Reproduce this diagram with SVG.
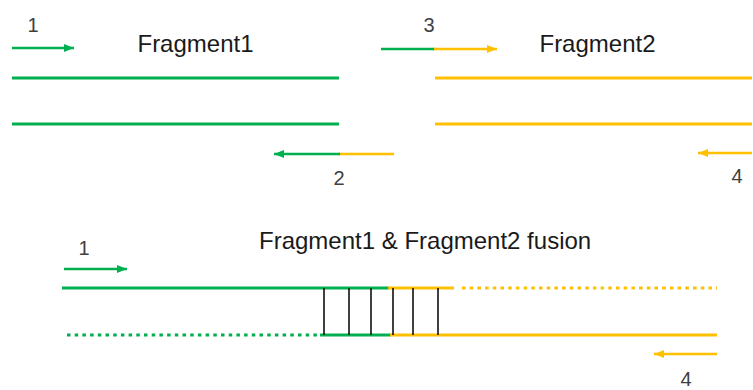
<svg xmlns="http://www.w3.org/2000/svg" width="753" height="390" viewBox="0 0 753 390">
<style>
.g{stroke:#00B050;fill:none}
.y{stroke:#FFC000;fill:none}
.strand{stroke-width:3}
.pr{stroke-width:2.5}
.dot{stroke-width:3;stroke-dasharray:3.5 4.2}
.hb{stroke:#000;stroke-width:1.5}
.t{font-family:"Liberation Sans",Arial,sans-serif;font-size:24px;fill:#1a1a1a}
.n{font-family:"Liberation Sans",Arial,sans-serif;font-size:20px;fill:#404040;text-anchor:middle}
</style>
<defs>
<marker id="ag" viewBox="0 0 10 8" refX="10" refY="4" markerWidth="10" markerHeight="8" markerUnits="userSpaceOnUse" orient="auto"><path d="M0,0L10,4L0,8z" fill="#00B050"/></marker>
<marker id="ay" viewBox="0 0 10 8" refX="10" refY="4" markerWidth="10" markerHeight="8" markerUnits="userSpaceOnUse" orient="auto"><path d="M0,0L10,4L0,8z" fill="#FFC000"/></marker>
</defs>
<rect width="753" height="390" fill="#fff"/>
<g id="fragment1">
<line class="g strand" x1="12" y1="78" x2="339" y2="78"/>
<line class="g strand" x1="12" y1="124" x2="339" y2="124"/>
<text class="t" x="195.5" y="52" text-anchor="middle">Fragment1</text>
</g>
<g id="fragment2">
<line class="y strand" x1="435" y1="78" x2="752" y2="78"/>
<line class="y strand" x1="435" y1="124" x2="752" y2="124"/>
<text class="t" x="597.5" y="52" text-anchor="middle">Fragment2</text>
</g>
<g id="fusion">
<text class="t" x="259" y="249">Fragment1 &amp; Fragment2 fusion</text>
<line class="g strand" x1="62" y1="288" x2="389" y2="288"/>
<line class="y strand" x1="388" y1="288" x2="454" y2="288"/>
<line class="y dot" x1="462" y1="288" x2="717" y2="288"/>
<line class="g dot" x1="67" y1="335" x2="320" y2="335"/>
<line class="g strand" x1="320" y1="335" x2="391" y2="335"/>
<line class="y strand" x1="390" y1="335" x2="717" y2="335"/>
<g id="hbonds">
<line class="hb" x1="324" y1="288" x2="324" y2="335"/>
<line class="hb" x1="349" y1="288" x2="349" y2="335"/>
<line class="hb" x1="371" y1="288" x2="371" y2="335"/>
<line class="hb" x1="393" y1="288" x2="393" y2="335"/>
<line class="hb" x1="413" y1="288" x2="413" y2="335"/>
<line class="hb" x1="438" y1="288" x2="438" y2="335"/>
</g>
</g>
<g id="primers">
<g id="primer1"><line class="g pr" x1="12" y1="48" x2="74" y2="48" marker-end="url(#ag)"/><text class="n" x="33" y="32">1</text></g>
<g id="primer2"><line class="y pr" x1="394" y1="154" x2="338" y2="154"/><line class="g pr" x1="340" y1="154" x2="274" y2="154" marker-end="url(#ag)"/><text class="n" x="339" y="185">2</text></g>
<g id="primer3"><line class="g pr" x1="381" y1="49" x2="435" y2="49"/><line class="y pr" x1="434" y1="49" x2="497" y2="49" marker-end="url(#ay)"/><text class="n" x="429" y="32">3</text></g>
<g id="primer4"><line class="y pr" x1="752" y1="153" x2="698" y2="153" marker-end="url(#ay)"/><text class="n" x="737" y="183">4</text></g>
<g id="primer1b"><line class="g pr" x1="64" y1="269" x2="127" y2="269" marker-end="url(#ag)"/><text class="n" x="84" y="255">1</text></g>
<g id="primer4b"><line class="y pr" x1="717" y1="354" x2="654" y2="354" marker-end="url(#ay)"/><text class="n" x="686" y="386">4</text></g>
</g>
</svg>
